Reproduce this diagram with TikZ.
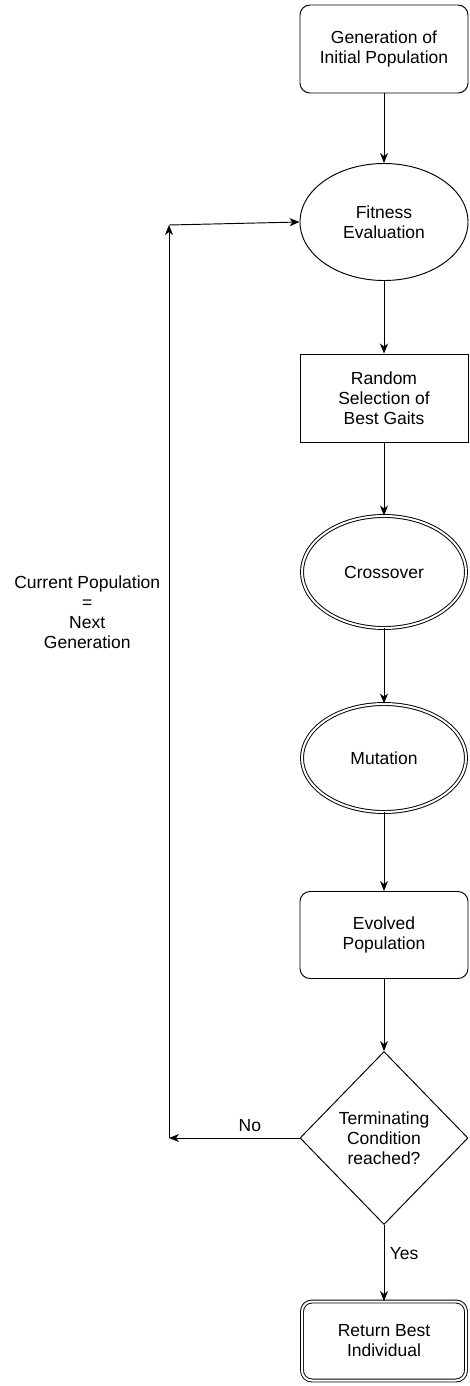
\documentclass[tikz,border=0pt]{standalone}
\usepackage{fontspec}
\setmainfont{Liberation Sans}
\usetikzlibrary{arrows.meta,shapes.geometric}

\begin{document}
\begin{tikzpicture}[x=1pt,y=-1pt,line width=0.95pt,
    >={Stealth[length=10pt,width=8pt,inset=3pt]},
    every node/.style={font=\fontsize{17.5}{20}\selectfont,align=center},
    roundbox/.style={draw,rectangle,rounded corners=10pt,minimum width=168pt,minimum height=88pt,inner sep=0pt},
    plainbox/.style={draw,rectangle,minimum width=168pt,minimum height=88pt,inner sep=0pt},
    oval/.style={draw,ellipse,minimum width=168pt,minimum height=117pt,inner sep=0pt},
    dbloval/.style={oval,double,double distance=2pt,minimum width=164pt,minimum height=112pt},
    decision/.style={draw,diamond,aspect=1,minimum width=168pt,minimum height=173pt,inner sep=0pt}]
    \useasboundingbox (0,0) rectangle (469,1386);
    % main column
    \node[roundbox] (init) at (384,49) {Generation of\\Initial Population};
    \node[oval] (fit) at (384,222) {Fitness\\Evaluation};
    \node[plainbox] (sel) at (384,398) {Random\\Selection of\\Best Gaits};
    \node[dbloval] (cross) at (384,572) {Crossover};
    \node[dbloval,minimum height=108pt] (mut) at (384,758) {Mutation};
    \node[roundbox,minimum height=87pt] (evo) at (384,935) {Evolved\\Population};
    \node[decision] (term) at (384,1138) {Terminating\\Condition\\reached?};
    \node[roundbox,double,double distance=2pt,minimum width=164pt,minimum height=79pt] (ret) at (384,1341) {Return Best\\Individual};
    % loop back corners
    \coordinate (backCorner) at (169,1138);
    \coordinate (backTop) at (169,225);
    % connectors
    \draw[->] (init) -- (fit);
    \draw[->] (fit) -- (sel);
    \draw[->] (sel) -- (cross);
    \draw[->] (cross) -- (mut);
    \draw[->] (mut) -- (evo);
    \draw[->] (evo) -- (term);
    \draw[->] (term) -- node[right=2pt,pos=0.37] {Yes} (ret);
    \draw[->] (term.west) -- node[above=3pt,pos=0.38] {No} (backCorner);
    \draw[->] (backCorner) -- node[left=5pt,pos=0.576] {Current Population\\=\\Next\\Generation} (backTop);
    \draw[->] (backTop) -- (fit.west);
\end{tikzpicture}
\end{document}
